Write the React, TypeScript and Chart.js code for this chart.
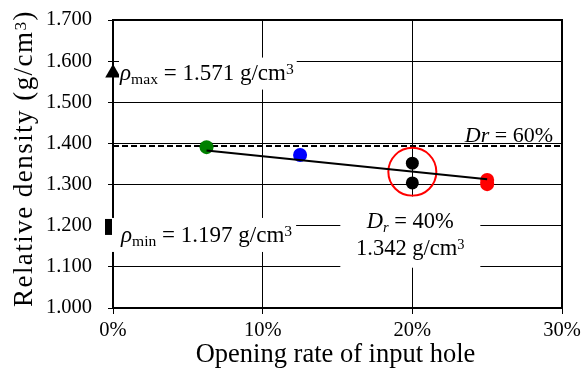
import React, { useEffect, useRef } from 'react';
import { Chart, registerables } from 'chart.js';

Chart.register(...registerables);

const FONT = "'Liberation Serif', 'Times New Roman', serif";

// ---- data ----
const xTickLabels = ['0%', '10%', '20%', '30%'];
const yTickLabels = ['1.000', '1.100', '1.200', '1.300', '1.400', '1.500', '1.600', '1.700'];

const greenX = [6.25];
const greenY = [1.391];
const blueX = [12.5];
const blueY = [1.372];
const blackX = [20, 20];
const blackY = [1.352, 1.304];
const redX = [25, 25];
const redY = [1.311, 1.301];
const trendX = [6.25, 25];
const trendY = [1.383, 1.313];
const dr60X = [0, 30];
const dr60Y = [1.394, 1.394];
const rhoMaxX = [0];
const rhoMaxY = [1.571];
const rhoMinX = [0];
const rhoMinY = [1.197];
const highlightX = [20];
const highlightY = [1.331];
const dr40Value = 1.342;
const dr40Percent = 40;
const dr60Percent = 60;

const xTitle = 'Opening rate of input hole';
const yTitle = 'Relative density (g/cm';

// plot-area frame in pixels
const AREA = { left: 113, top: 20, right: 562, bottom: 308 };

type Run = { t: string; it?: boolean; sub?: boolean; sup?: boolean };

let SMALL = 0.64;
const setFont = (ctx: CanvasRenderingContext2D, r: Run, size: number) => {
  const s = r.sub || r.sup ? size * SMALL : size;
  ctx.font = `${r.it ? 'italic ' : ''}${s}px ${FONT}`;
};
const runsWidth = (ctx: CanvasRenderingContext2D, runs: Run[], size: number) =>
  runs.reduce((w, r) => {
    setFont(ctx, r, size);
    return w + ctx.measureText(r.t).width;
  }, 0);
const drawRuns = (ctx: CanvasRenderingContext2D, runs: Run[], x: number, y: number, size: number) => {
  ctx.textAlign = 'left';
  ctx.textBaseline = 'alphabetic';
  ctx.fillStyle = '#000';
  let cx = x;
  for (const r of runs) {
    setFont(ctx, r, size);
    const dy = r.sub ? size * 0.18 : r.sup ? -size * 0.24 : 0;
    ctx.fillText(r.t, cx, y + dy);
    cx += ctx.measureText(r.t).width;
  }
  return cx;
};

const pts = (xs: number[], ys: number[]) => xs.map((x, i) => ({ x, y: ys[i] }));

export default function App() {
  const ref = useRef<HTMLCanvasElement>(null);

  useEffect(() => {
    document.body.style.margin = '0';
    const canvas = ref.current!;

    const annot = {
      id: 'annot',
      afterLayout(chart: any) {
        const a = chart.chartArea;
        a.left = AREA.left;
        a.top = AREA.top;
        a.right = AREA.right;
        a.bottom = AREA.bottom;
        a.width = AREA.right - AREA.left;
        a.height = AREA.bottom - AREA.top;
        const x = chart.scales.x;
        x.left = AREA.left;
        x.right = AREA.right;
        x.width = AREA.right - AREA.left;
        x.top = AREA.bottom;
        x.bottom = chart.height;
        x.height = chart.height - AREA.bottom;
        x.configure();
        const y = chart.scales.y;
        y.left = 0;
        y.right = AREA.left;
        y.width = AREA.left;
        y.top = AREA.top;
        y.bottom = AREA.bottom;
        y.height = AREA.bottom - AREA.top;
        y.configure();
      },
      beforeDatasetsDraw(chart: any) {
        const { ctx, chartArea: a } = chart;
        ctx.save();
        ctx.strokeStyle = '#000';
        ctx.lineWidth = 2;
        ctx.strokeRect(a.left, a.top, a.right - a.left, a.bottom - a.top);
        ctx.restore();
      },
      afterDatasetsDraw(chart: any) {
        const { ctx } = chart;
        const xs = chart.scales.x;
        const ys = chart.scales.y;
        ctx.save();

        // rho max
        {
          const S = 23;
          SMALL = 0.68;
          const ax = xs.getPixelForValue(rhoMaxX[0]);
          const ay = ys.getPixelForValue(rhoMaxY[0]);
          const runs: Run[] = [
            { t: 'ρ', it: true },
            { t: 'max', sub: true },
            { t: ` = ${rhoMaxY[0].toFixed(3)} g/cm` },
            { t: '3', sup: true },
          ];
          const tx = ax + 7;
          const base = ay + 6.5;
          const w = runsWidth(ctx, runs, S);
          ctx.fillStyle = '#fff';
          ctx.fillRect(ax + 6, base - 22, tx + w + 3 - (ax + 6), 32);
          drawRuns(ctx, runs, tx, base, S);
        }
        // rho min
        {
          const S = 23;
          SMALL = 0.68;
          const ax = xs.getPixelForValue(rhoMinX[0]);
          const ay = ys.getPixelForValue(rhoMinY[0]);
          const runs: Run[] = [
            { t: 'ρ', it: true },
            { t: 'min', sub: true },
            { t: ` = ${rhoMinY[0].toFixed(3)} g/cm` },
            { t: '3', sup: true },
          ];
          const tx = ax + 8;
          const base = ay + 15;
          const w = runsWidth(ctx, runs, S);
          ctx.fillStyle = '#fff';
          ctx.fillRect(ax - 1, base - 24, tx + w + 4 - (ax - 1), 34);
          drawRuns(ctx, runs, tx, base, S);
        }
        SMALL = 0.64;
        // Dr = 40%
        {
          const S = 22.5;
          const cx = xs.getPixelForValue(highlightX[0]) - 2;
          const y0 = ys.getPixelForValue(1.2);
          ctx.fillStyle = '#fff';
          ctx.fillRect(cx - 70, y0 - 29, 140, 71);
          const l1: Run[] = [
            { t: 'D', it: true },
            { t: 'r', it: true, sub: true },
            { t: ` = ${dr40Percent}%` },
          ];
          const l2: Run[] = [{ t: `${dr40Value.toFixed(3)} g/cm` }, { t: '3', sup: true }];
          const w1 = runsWidth(ctx, l1, S);
          const w2 = runsWidth(ctx, l2, S);
          drawRuns(ctx, l1, cx - w1 / 2, y0 + 2, S);
          drawRuns(ctx, l2, cx - w2 / 2, y0 + 29, S);
        }
        // Dr = 60%
        {
          const S = 22;
          const rx = xs.getPixelForValue(dr60X[1]) - 9;
          const base = ys.getPixelForValue(dr60Y[0]) - 4;
          const runs: Run[] = [{ t: 'Dr', it: true }, { t: ` = ${dr60Percent}%` }];
          const w = runsWidth(ctx, runs, S);
          drawRuns(ctx, runs, rx - w, base, S);
        }
        ctx.restore();
      },
      afterDraw(chart: any) {
        const { ctx, chartArea: a } = chart;
        ctx.save();
        // x title
        {
          const runs: Run[] = [{ t: xTitle }];
          const S = 26.5;
          const w = runsWidth(ctx, runs, S);
          drawRuns(ctx, runs, (a.left + a.right) / 2 - w / 2 - 2, 362, S);
        }
        // y title
        {
          const S = 27;
          const runs: Run[] = [{ t: yTitle }, { t: '3', sup: true }, { t: ')' }];
          const w0 = runsWidth(ctx, runs, S);
          const n = runs.reduce((k, r) => k + r.t.length, 0);
          const sp = (297 - w0) / n;
          (ctx as any).letterSpacing = `${sp}px`;
          const w = runsWidth(ctx, runs, S);
          ctx.translate(32, 158.5);
          ctx.rotate(-Math.PI / 2);
          drawRuns(ctx, runs, -w / 2, 0, S);
          (ctx as any).letterSpacing = '0px';
        }
        ctx.restore();
      },
    };

    const chart = new Chart(canvas, {
      type: 'scatter',
      data: {
        datasets: [
          {
            data: pts(trendX, trendY),
            showLine: true,
            borderColor: '#000',
            borderWidth: 2,
            pointRadius: 0,
          },
          {
            data: pts(redX, redY),
            backgroundColor: '#ff0000',
            borderColor: '#ff0000',
            pointRadius: 7,
            borderWidth: 0,
          },
          {
            data: pts(blackX, blackY),
            backgroundColor: '#000',
            borderColor: '#000',
            pointRadius: 6.5,
            borderWidth: 0,
          },
          {
            data: pts(blueX, blueY),
            backgroundColor: '#0000ff',
            borderColor: '#0000ff',
            pointRadius: 7,
            borderWidth: 0,
          },
          {
            data: pts(greenX, greenY),
            backgroundColor: '#008000',
            borderColor: '#008000',
            pointRadius: 7,
            borderWidth: 0,
          },
          {
            data: pts(rhoMaxX, rhoMaxY),
            pointStyle: 'triangle',
            backgroundColor: '#000',
            borderColor: '#000',
            pointRadius: 9,
            borderWidth: 0,
            clip: false,
          },
          {
            data: pts(rhoMinX, rhoMinY),
            pointStyle: 'rect',
            backgroundColor: '#000',
            borderColor: '#000',
            pointRadius: 11.3,
            borderWidth: 0,
            clip: false,
          },
          {
            data: pts(highlightX, highlightY),
            backgroundColor: 'rgba(0,0,0,0)',
            borderColor: '#ff0000',
            pointRadius: 24,
            borderWidth: 2,
          },
          {
            data: pts(dr60X, dr60Y),
            showLine: true,
            borderColor: '#000',
            borderWidth: 2,
            borderDash: [6, 3],
            pointRadius: 0,
          },
        ],
      },
      options: {
        responsive: false,
        animation: false,
        events: [],
        layout: { padding: { top: 20, right: 19, left: 0, bottom: 0 } },
        plugins: { legend: { display: false }, tooltip: { enabled: false } },
        scales: {
          x: {
            type: 'linear',
            min: 0,
            max: 30,
            ticks: {
              stepSize: 10,
              callback: (_v: any, i: number) => xTickLabels[i],
              font: { family: FONT, size: 20.5 },
              color: '#000',
              padding: 4,
              maxRotation: 0,
              autoSkip: false,
            },
            grid: { color: '#000', lineWidth: 1, tickLength: 6, tickColor: '#000' },
            border: { display: true, color: '#000', width: 2 },
          },
          y: {
            type: 'linear',
            min: 1.0,
            max: 1.7,
            ticks: {
              stepSize: 0.1,
              callback: (_v: any, i: number) => yTickLabels[i],
              font: { family: FONT, size: 20.5 },
              color: '#000',
              padding: 16,
              autoSkip: false,
            },
            grid: { color: '#000', lineWidth: 1, tickLength: 5, tickColor: '#000' },
            border: { display: true, color: '#000', width: 2 },
          },
        },
      },
      plugins: [annot],
    } as any);

    return () => chart.destroy();
  }, []);

  return (
    <div style={{ width: 581, height: 374 }}>
      <canvas ref={ref} width={581} height={374} style={{ display: 'block' }} />
    </div>
  );
}
